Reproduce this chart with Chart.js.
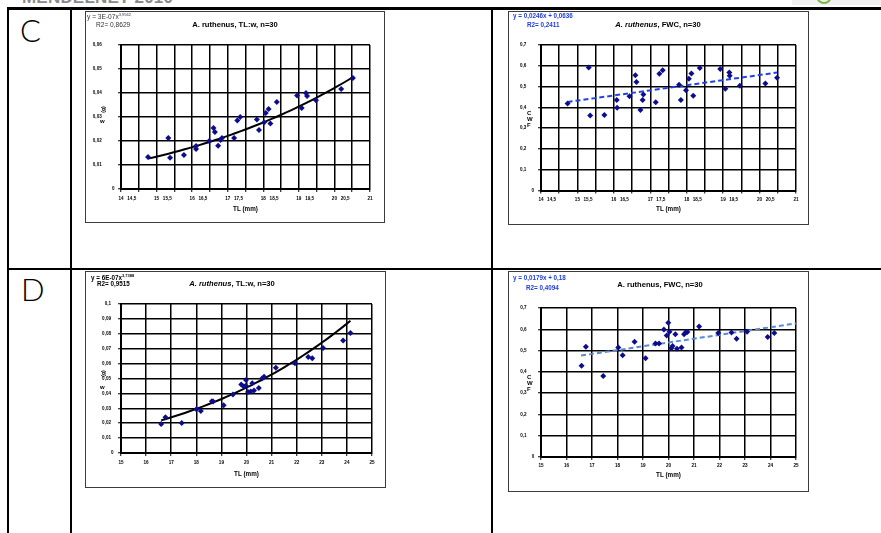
<!DOCTYPE html>
<html>
<head>
<meta charset="utf-8">
<script src="https://cdn.jsdelivr.net/npm/chart.js@4.4.1/dist/chart.umd.min.js"></script>
<style>
  html, body { margin: 0; padding: 0; background: #fff; }
  body { width: 881px; height: 533px; overflow: hidden; position: relative;
         font-family: "Liberation Sans", Arial, sans-serif; color: #000; }
  .rule { position: absolute; background: #000; }
  .box { position: absolute; border: 1px solid #3c3c3c; box-sizing: border-box; background: #fff; }
  .cv { position: absolute; }
  .txt { position: absolute; white-space: nowrap; line-height: 1; }
  .eq { font-size: 6.6px; }
  .ttl { font-size: 7.6px; font-weight: bold; transform: translateX(-50%); }
  .side { font-size: 6px; font-weight: bold; }
  .cell { position: absolute; font-family: Lato, "DejaVu Sans", sans-serif; font-weight: 300; font-size: 31px; line-height: 1; color: #000; }
  .hdr { position: absolute; left: 22px; top: -12px; font-size: 17px; font-weight: bold; color: #8a8a8a; letter-spacing: 0.2px; }
</style>
</head>
<body>

<!-- page header strip -->
<div class="hdr">MENDELNET 2010</div>
<div style="position:absolute;left:792px;top:0;width:89px;height:5px;background:#f1f1f1;"></div>
<div style="position:absolute;left:816px;top:-12px;width:12px;height:12px;border:2px solid #7bb84a;border-radius:50%;"></div>

<!-- table grid -->
<div class="rule" style="left:7px;top:7px;width:874px;height:3px;"></div>
<div class="rule" style="left:7px;top:8px;width:2px;height:525px;"></div>
<div class="rule" style="left:70px;top:8px;width:2px;height:525px;"></div>
<div class="rule" style="left:491px;top:8px;width:2px;height:525px;"></div>
<div class="rule" style="left:7px;top:268px;width:874px;height:2px;"></div>

<div class="cell" style="left:20px;top:15px;">C</div>
<div class="cell" style="left:21px;top:274px;">D</div>

<!-- chart frames -->
<div class="box" style="left:85px;top:11px;width:300px;height:212px;"></div>
<div class="box" style="left:508px;top:11px;width:301px;height:214px;"></div>
<div class="box" style="left:85px;top:271px;width:301px;height:217px;"></div>
<div class="box" style="left:508px;top:271px;width:301px;height:221px;"></div>

<canvas id="cWeight" class="cv" style="left:85px;top:11px;" width="300" height="212"></canvas>
<canvas id="cFwc" class="cv" style="left:508px;top:11px;" width="301" height="214"></canvas>
<canvas id="dWeight" class="cv" style="left:85px;top:271px;" width="301" height="217"></canvas>
<canvas id="dFwc" class="cv" style="left:508px;top:271px;" width="301" height="221"></canvas>

<!-- equations and titles -->
<div class="txt eq" style="left:87px;top:13px;color:#333;">y = 3E-07x<sup style="font-size:4px;vertical-align:3px;">3,9562</sup></div>
<div class="txt eq" style="left:96px;top:22px;color:#333;">R2= 0,8629</div>
<div class="txt ttl" style="left:235px;top:21px;">A. ruthenus, TL:w, n=30</div>

<div class="txt eq" style="left:513px;top:13px;color:#1f3ce0;font-weight:bold;font-size:6.3px;">y = 0,0246x + 0,0636</div>
<div class="txt eq" style="left:527px;top:22px;color:#1f3ce0;font-weight:bold;font-size:6.3px;">R2= 0,2411</div>
<div class="txt ttl" style="left:658px;top:21px;"><i>A. ruthenus</i>, FWC, n=30</div>

<div class="txt eq" style="left:91px;top:274px;font-weight:bold;font-size:6.3px;">y = 6E-07x<sup style="font-size:4px;vertical-align:3px;">3,7388</sup></div>
<div class="txt eq" style="left:97px;top:281px;font-weight:bold;font-size:6.3px;">R2= 0,9515</div>
<div class="txt ttl" style="left:232px;top:280px;"><i>A. ruthenus</i>, TL:w, n=30</div>

<div class="txt eq" style="left:513px;top:275px;color:#1f3ce0;font-weight:bold;font-size:6.3px;">y = 0,0179x + 0,18</div>
<div class="txt eq" style="left:526px;top:285px;color:#1f3ce0;font-weight:bold;font-size:6.3px;">R2= 0,4094</div>
<div class="txt ttl" style="left:660px;top:281px;">A. ruthenus, FWC, n=30</div>

<!-- vertical axis captions -->
<div class="txt side" style="left:100px;top:107px;transform:rotate(-90deg);font-size:5px;">(g)</div>
<div class="txt side" style="left:100px;top:118px;">w</div>
<div class="txt side" style="left:100px;top:371px;transform:rotate(-90deg);font-size:5px;">(g)</div>
<div class="txt side" style="left:100px;top:384px;">w</div>
<div class="txt side" style="left:527px;top:110px;">C</div>
<div class="txt side" style="left:527px;top:116px;">W</div>
<div class="txt side" style="left:527px;top:122px;">F</div>
<div class="txt side" style="left:527px;top:374px;">C</div>
<div class="txt side" style="left:527px;top:380px;">W</div>
<div class="txt side" style="left:527px;top:386px;">F</div>

<script>
// ---------- C: total length (mm) vs weight (g)
const cWeightTL = [14.76, 15.33, 15.38, 15.77, 16.11, 16.11, 16.48, 16.60, 16.64, 16.73,
                   16.80, 16.84, 17.18, 17.27, 17.35, 17.82, 17.88, 18.02, 18.07, 18.15,
                   18.20, 18.38, 18.95, 19.08, 19.20, 19.23, 19.48, 20.19, 20.52];
const cWeightW  = [0.0133, 0.0213, 0.0130, 0.0142, 0.0179, 0.0167, 0.0200, 0.0254, 0.0238, 0.0180,
                   0.0204, 0.0212, 0.0212, 0.0285, 0.0300, 0.0290, 0.0246, 0.0277, 0.0317, 0.0333,
                   0.0273, 0.0363, 0.0390, 0.0337, 0.0400, 0.0388, 0.0370, 0.0417, 0.0463];

// ---------- C: total length (mm) vs FWC
const cFwcTL  = [14.73, 15.31, 15.35, 15.74, 16.08, 16.09, 16.43, 16.59, 16.62, 16.73,
                 16.79, 16.81, 17.15, 17.25, 17.34, 17.79, 17.84, 17.98, 18.06, 18.13,
                 18.18, 18.36, 18.92, 19.06, 19.17, 19.18, 19.46, 20.16, 20.48];
const cFwcVal = [0.419, 0.592, 0.361, 0.363, 0.435, 0.398, 0.454, 0.555, 0.522, 0.387,
                 0.435, 0.462, 0.425, 0.562, 0.578, 0.509, 0.435, 0.482, 0.538, 0.563,
                 0.456, 0.589, 0.584, 0.489, 0.568, 0.552, 0.504, 0.515, 0.542];

// ---------- D: total length (mm) vs weight (g)
const dWeightTL = [16.60, 16.77, 17.42, 18.00, 18.18, 18.62, 18.67, 19.09, 19.46, 19.79,
                   19.89, 19.97, 19.98, 20.06, 20.17, 20.23, 20.30, 20.49, 20.62, 20.70,
                   21.17, 21.93, 22.46, 22.62, 23.05, 23.85, 24.14];
const dWeightW  = [0.0195, 0.0240, 0.0202, 0.0294, 0.0282, 0.0348, 0.0345, 0.0320, 0.0393, 0.0460,
                   0.0447, 0.0452, 0.0490, 0.0410, 0.0413, 0.0468, 0.0420, 0.0437, 0.0500, 0.0512,
                   0.0572, 0.0603, 0.0645, 0.0636, 0.0705, 0.0755, 0.0805];

// ---------- D: total length (mm) vs FWC
const dFwcTL  = [16.59, 16.76, 17.44, 18.03, 18.20, 18.67, 19.10, 19.49, 19.63, 19.82,
                 19.93, 19.99, 20.04, 20.11, 20.16, 20.27, 20.33, 20.51, 20.61, 20.67,
                 20.74, 21.20, 21.95, 22.47, 22.67, 23.08, 23.89, 24.15];
const dFwcVal = [0.429, 0.518, 0.381, 0.514, 0.478, 0.541, 0.464, 0.533, 0.533, 0.599,
                 0.571, 0.631, 0.588, 0.511, 0.522, 0.577, 0.508, 0.514, 0.577, 0.585,
                 0.587, 0.613, 0.582, 0.585, 0.556, 0.588, 0.564, 0.583];

// ---------- axis ranges [min, max, step]
const cLengthAxis = [14, 21, 0.5];
const dLengthAxis = [15, 25, 1];
const cWeightAxis = [0, 0.06, 0.01];
const dWeightAxis = [0, 0.1, 0.01];
const fwcAxis     = [0, 0.7, 0.1];

// ---------- fitted trend lines (coefficients as printed on each panel)
const cWeightFit = { a: 3e-7, b: 3.9562, from: 14.76, to: 20.52 };   // power
const dWeightFit = { a: 6e-7, b: 3.7388, from: 16.60, to: 24.14 };   // power
const cFwcFit    = { slope: 0.0246, intercept: 0.0636, from: 14.73, to: 20.48 };
const dFwcFit    = { slope: 0.0179, intercept: 0.18,   from: 16.57, to: 25 };

const FONT = '"Liberation Sans", Arial, sans-serif';

function pairs(xs, ys) { return xs.map((x, i) => ({ x: x, y: ys[i] })); }

function powerCurve(fit) {
  const out = [];
  const n = 40;
  for (let i = 0; i <= n; i++) {
    const x = fit.from + (fit.to - fit.from) * i / n;
    out.push({ x: x, y: fit.a * Math.pow(x, fit.b) });
  }
  return out;
}
function straightLine(fit) {
  return [fit.from, fit.to].map(x => ({ x: x, y: fit.slope * x + fit.intercept }));
}

// decimal comma, plus trailing blank space after labels that carry a comma
function commaLabel(v, blanks) {
  const s = String(Number(v.toFixed(3))).replace('.', ',');
  return s.indexOf(',') >= 0 ? s + ' '.repeat(blanks) : s;
}

function buildPanel(id, cfg) {
  return new Chart(document.getElementById(id).getContext('2d'), {
    type: 'scatter',
    data: {
      datasets: [
        { data: cfg.points, pointStyle: 'rectRot', pointRadius: 3, pointHoverRadius: 3,
          backgroundColor: '#0d0d8c', borderColor: '#0d0d8c', borderWidth: 0, order: 0 },
        { data: cfg.trend, showLine: true, pointRadius: 0, borderColor: cfg.trendColor,
          borderWidth: 2, borderDash: cfg.dash, fill: false, tension: 0, order: 1 }
      ]
    },
    options: {
      responsive: false, animation: false, devicePixelRatio: 1,
      layout: { padding: { top: cfg.top, right: cfg.right, left: 0, bottom: 0 } },
      plugins: { legend: { display: false }, tooltip: { enabled: false } },
      scales: {
        x: {
          type: 'linear', min: cfg.xAxis[0], max: cfg.xAxis[1],
          ticks: { stepSize: cfg.xAxis[2], autoSkip: false, maxRotation: 0, color: '#000',
                   padding: cfg.xTickPad, font: { family: FONT, size: 4.6, weight: 'bold' },
                   callback: v => commaLabel(v, cfg.xBlanks) },
          grid: { color: '#000', lineWidth: 1.5, tickLength: 3, tickColor: '#000', tickWidth: 1 },
          border: { color: '#000', width: 2 },
          title: { display: true, text: 'TL (mm)', color: '#000',
                   font: { family: FONT, size: 6.3, weight: 'bold' },
                   padding: { top: 0, bottom: cfg.xTitlePad } },
          afterFit: s => { s.height = cfg.bottom; }
        },
        y: {
          type: 'linear', min: cfg.yAxis[0], max: cfg.yAxis[1],
          ticks: { stepSize: cfg.yAxis[2], autoSkip: false, color: '#000', padding: cfg.yTickPad,
                   font: { family: FONT, size: 4.6, weight: 'bold' },
                   callback: v => commaLabel(v, cfg.yBlanks) },
          grid: { color: '#000', lineWidth: 1.5, tickLength: 3, tickColor: '#000', tickWidth: 1 },
          border: { color: '#000', width: 2 },
          afterFit: s => { s.width = cfg.left; }
        }
      }
    }
  });
}

buildPanel('cWeight', {
  points: pairs(cWeightTL, cWeightW), trend: powerCurve(cWeightFit),
  trendColor: '#000', dash: [],
  xAxis: cLengthAxis, yAxis: cWeightAxis,
  left: 36, top: 34, right: 15, bottom: 34,
  xTickPad: 4, xTitlePad: 10, yTickPad: 3.5, xBlanks: 11, yBlanks: 10
});
buildPanel('cFwc', {
  points: pairs(cFwcTL, cFwcVal), trend: straightLine(cFwcFit),
  trendColor: '#2242e6', dash: [5, 3],
  xAxis: cLengthAxis, yAxis: fwcAxis,
  left: 33, top: 34, right: 13, bottom: 34.5,
  xTickPad: 3, xTitlePad: 12, yTickPad: 4, xBlanks: 12, yBlanks: 6
});
buildPanel('dWeight', {
  points: pairs(dWeightTL, dWeightW), trend: powerCurve(dWeightFit),
  trendColor: '#000', dash: [],
  xAxis: dLengthAxis, yAxis: dWeightAxis,
  left: 36, top: 33, right: 14, bottom: 35,
  xTickPad: 3.5, xTitlePad: 10, yTickPad: 4.4, xBlanks: 0, yBlanks: 2
});
buildPanel('dFwc', {
  points: pairs(dFwcTL, dFwcVal), trend: straightLine(dFwcFit),
  trendColor: '#5a8ad6', dash: [5, 3],
  xAxis: dLengthAxis, yAxis: fwcAxis,
  left: 33, top: 37, right: 13, bottom: 35,
  xTickPad: 3, xTitlePad: 13, yTickPad: 3.7, xBlanks: 0, yBlanks: 6
});
</script>
</body>
</html>
